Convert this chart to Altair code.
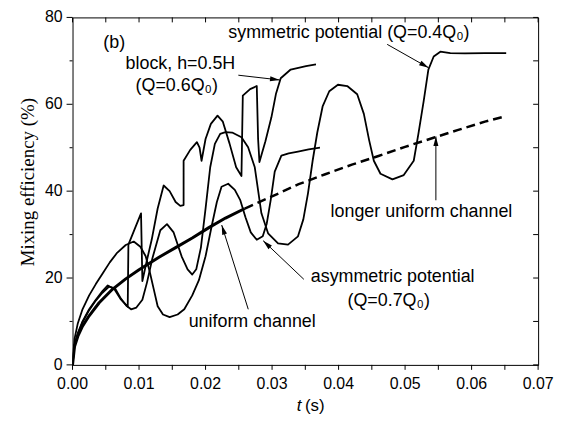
import math
import altair as alt
import pandas as pd

# ---------------- data ----------------
uni_t = [0, 0.0003, 0.0008, 0.0015, 0.0025, 0.004, 0.006, 0.008, 0.010, 0.013, 0.0155, 0.018, 0.0205, 0.023, 0.0259]
uni_y = [0, 4.2, 6.6, 8.9, 11.3, 14.3, 17.4, 19.8, 21.9, 24.8, 27.0, 29.2, 31.6, 33.8, 36.0]

long_t = [0.0259, 0.030, 0.034, 0.038, 0.042, 0.046, 0.050, 0.0545, 0.058, 0.062, 0.0652]
long_y = [36.0, 38.8, 41.6, 43.9, 46.1, 48.1, 50.2, 52.4, 54.1, 56.0, 57.3]

sym_t = [0, 0.0003, 0.0008, 0.0015, 0.0025, 0.0035, 0.0045, 0.0055, 0.0064, 0.0073, 0.0081, 0.0088,
         0.0096, 0.0105, 0.0112, 0.0120, 0.0132, 0.0142, 0.0152, 0.0164, 0.0173, 0.0180, 0.0186,
         0.0193, 0.0200, 0.0207, 0.0214, 0.0222, 0.0230, 0.0240, 0.0254, 0.0264, 0.0274, 0.0284,
         0.0294, 0.0309, 0.0324, 0.0339, 0.0347, 0.0354, 0.0361, 0.0368, 0.0376, 0.0386, 0.0399,
         0.0413, 0.0428, 0.0438, 0.0446, 0.0453, 0.0463, 0.0481, 0.0498, 0.0513, 0.0520, 0.0528,
         0.0535, 0.0543, 0.0553, 0.0568, 0.0590, 0.0620, 0.0652]
sym_y = [0, 4.5, 7.2, 9.8, 12.6, 14.8, 16.6, 18.0, 17.6, 15.2, 13.6, 12.8,
         13.2, 15.0, 19.0, 24.5, 31.0, 32.4, 30.5, 25.0, 22.0, 20.8, 22.0,
         27.0, 36.0, 45.5, 50.9, 53.2, 53.6, 53.5, 52.4, 50.1, 45.5, 34.9,
         30.3, 28.0, 27.7, 29.6, 33.5, 39.5, 47.0, 53.5, 59.5, 63.0, 64.5,
         64.2, 62.3, 57.8, 51.7, 47.0, 44.0, 42.7, 43.7, 47.0, 53.2, 60.8,
         68.0, 71.0, 72.1, 71.8, 71.7, 71.8, 71.8]

blk_t = [0, 0.0003, 0.0008, 0.0015, 0.0025, 0.0035, 0.0045, 0.0053, 0.0063, 0.0072, 0.0083, 0.0084,
         0.0094, 0.0103, 0.0105, 0.0112, 0.0119, 0.0128, 0.0137, 0.0146, 0.0155, 0.0162, 0.0167,
         0.0167, 0.0177, 0.0187, 0.0191, 0.0194, 0.0200, 0.0208, 0.0218, 0.0226, 0.0236, 0.0246,
         0.0254, 0.0256, 0.0267, 0.0277, 0.0279, 0.0281, 0.0290, 0.0299, 0.0306, 0.0313, 0.0328,
         0.0351, 0.0366]
blk_y = [0, 4.6, 7.3, 10.0, 12.8, 15.0, 17.0, 18.3, 17.4, 15.2, 13.4, 27.7,
         31.5, 34.9, 19.3, 24.2, 28.8, 36.0, 41.3, 40.0, 37.5, 36.6, 36.8,
         47.0, 49.5, 51.3, 50.0, 47.0, 52.0, 55.5, 57.4, 56.0, 51.0, 45.5,
         43.5, 62.0, 63.5, 64.2, 52.0, 46.7, 51.5, 57.0, 62.5, 66.0, 68.0,
         68.8, 69.2]

asy_t = [0, 0.0003, 0.0008, 0.0015, 0.0025, 0.0035, 0.0045, 0.0056, 0.0067, 0.0080, 0.0092, 0.0102,
         0.0110, 0.0116, 0.0122, 0.0128, 0.0136, 0.0146, 0.0158, 0.0168, 0.0180, 0.0190, 0.0200,
         0.0209, 0.0217, 0.0224, 0.0234, 0.0244, 0.0252, 0.0260, 0.0268, 0.0277, 0.0286, 0.0292,
         0.0298, 0.0304, 0.0314, 0.0325, 0.0339, 0.0355, 0.0372]
asy_y = [0, 6.0, 9.6, 12.8, 16.0, 18.6, 21.0, 23.6, 25.8, 27.6, 28.4, 27.2,
         25.0, 21.5, 17.5, 13.5, 11.6, 11.0, 11.6, 12.8, 16.0, 19.5, 25.0,
         31.8, 37.5, 41.0, 41.7, 40.3, 38.0, 34.0, 30.5, 28.8, 29.6, 32.5,
         38.0, 44.5, 48.2, 48.7, 49.1, 49.6, 50.0]

x_ticks = [0.00, 0.01, 0.02, 0.03, 0.04, 0.05, 0.06, 0.07]
x_tick_labels = ["0.00", "0.01", "0.02", "0.03", "0.04", "0.05", "0.06", "0.07"]
x_minor = [0.005, 0.015, 0.025, 0.035, 0.045, 0.055, 0.065]
y_ticks = [0, 20, 40, 60, 80]
y_tick_labels = ["0", "20", "40", "60", "80"]
y_minor = [10, 30, 50, 70]

y_title = "Mixing efficiency (%)"

# annotation texts (data coordinates)
lab_text = ["(b)", "block, h=0.5H", "(Q=0.6Q\u2080)", "symmetric potential (Q=0.4Q\u2080)",
            "longer uniform channel", "asymmetric potential", "(Q=0.7Q\u2080)", "uniform channel"]
lab_t = [0.00627, 0.01622, 0.01567, 0.02343, 0.0388, 0.03582, 0.04134, 0.01746]
lab_y = [74.1, 69.2, 64.2, 76.4, 35.3, 20.2, 14.7, 9.8]
lab_align = ["center", "center", "center", "left", "left", "left", "left", "left"]

# arrows: start -> tip
arr_t0 = [0.02493, 0.04731, 0.05463, 0.03478, 0.02642]
arr_y0 = [66.7, 73.8, 37.9, 19.7, 12.8]
arr_t1 = [0.03115, 0.05354, 0.05463, 0.02866, 0.02243]
arr_y1 = [65.6, 68.4, 52.6, 28.6, 32.2]

# ---------------- chart ----------------
W, H = 469, 350
XD, YD = [0, 0.07], [0, 80]
FONT = "Liberation Sans"

xs = alt.Scale(domain=XD, nice=False, zero=False)
ys = alt.Scale(domain=YD, nice=False, zero=False)

all_x = sorted(x_ticks + x_minor)
all_y = sorted(y_ticks + y_minor)


def X(f):
    return alt.X(f, scale=xs, axis=None)


def Y(f):
    return alt.Y(f, scale=ys, axis=None)


def curve(t, y, width, dash=None):
    df = pd.DataFrame({"t": t, "y": y, "i": list(range(len(t)))})
    kw = dict(color="black", strokeWidth=width, clip=True, strokeJoin="round")
    if dash:
        kw["strokeDash"] = dash
    return alt.Chart(df).mark_line(**kw).encode(x=X("t:Q"), y=Y("y:Q"), order="i:Q")


layers = [
    curve(sym_t, sym_y, 1.8),
    curve(blk_t, blk_y, 1.8),
    curve(asy_t, asy_y, 1.8),
    curve(long_t, long_y, 2.5, dash=[9, 5]),
    curve(uni_t, uni_y, 3.0),
]

rule = dict(color="black", strokeWidth=1)
# bottom axis ticks + labels
layers.append(alt.Chart(pd.DataFrame({"t": all_x})).mark_rule(**rule).encode(
    x=X("t:Q"), y=alt.value(H), y2=alt.value(H + 5)))
layers.append(alt.Chart(pd.DataFrame({"t": x_ticks, "s": x_tick_labels})).mark_text(
    align="center", baseline="middle", font=FONT, fontSize=16, color="black").encode(
    x=X("t:Q"), y=alt.value(H + 19), text="s:N"))
# left axis ticks + labels
layers.append(alt.Chart(pd.DataFrame({"y": y_ticks})).mark_rule(**rule).encode(
    y=Y("y:Q"), x=alt.value(-6), x2=alt.value(0)))
layers.append(alt.Chart(pd.DataFrame({"y": y_minor})).mark_rule(**rule).encode(
    y=Y("y:Q"), x=alt.value(-3), x2=alt.value(0)))
layers.append(alt.Chart(pd.DataFrame({"y": y_ticks, "s": y_tick_labels})).mark_text(
    align="right", baseline="middle", font=FONT, fontSize=16, color="black").encode(
    y=Y("y:Q"), x=alt.value(-10), text="s:N"))
# y title
layers.append(alt.Chart(pd.DataFrame({"s": [y_title]})).mark_text(
    align="center", baseline="middle", font="Liberation Serif", fontSize=19, angle=270,
    color="black").encode(x=alt.value(-45), y=alt.value(166), text="s:N"))
# inward ticks on top and right
layers.append(alt.Chart(pd.DataFrame({"t": all_x})).mark_rule(**rule).encode(
    x=X("t:Q"), y=alt.value(0), y2=alt.value(5)))
layers.append(alt.Chart(pd.DataFrame({"y": all_y})).mark_rule(**rule).encode(
    y=Y("y:Q"), x=alt.value(W), x2=alt.value(W - 5)))

# arrows
adf = pd.DataFrame({"t0": arr_t0, "y0": arr_y0, "t1": arr_t1, "y1": arr_y1})
px_t = W / (XD[1] - XD[0])
px_y = H / (YD[1] - YD[0])
adf["angle"] = [
    math.degrees(math.atan2((b - a) * px_t, (d - c) * px_y)) % 360
    for a, b, c, d in zip(adf.t0, adf.t1, adf.y0, adf.y1)
]
layers.append(alt.Chart(adf).mark_rule(**rule).encode(
    x=X("t0:Q"), y=Y("y0:Q"), x2="t1:Q", y2="y1:Q"))
layers.append(alt.Chart(adf).mark_point(
    shape="M0,0L0.26,1L-0.26,1Z", filled=True, color="black", opacity=1, size=380, strokeWidth=0
).encode(x=X("t1:Q"), y=Y("y1:Q"), angle=alt.Angle("angle:Q", scale=None)))

# annotation texts
tdf = pd.DataFrame({"t": lab_t, "y": lab_y, "s": lab_text, "a": lab_align})
for al in ["center", "left"]:
    sub = tdf[tdf.a == al]
    layers.append(alt.Chart(sub).mark_text(
        align=al, baseline="middle", font=FONT, fontSize=18, color="black"
    ).encode(x=X("t:Q"), y=Y("y:Q"), text="s:N"))

# x-axis title: italic t + (s)
xt_df = pd.DataFrame({"t": [0.03370], "y": [-9.4], "s": ["t"]})
xs_df = pd.DataFrame({"t": [0.03495], "y": [-9.4], "s": ["(s)"]})
layers.append(alt.Chart(xt_df).mark_text(align="left", baseline="middle", font=FONT, fontSize=17,
                                         fontStyle="italic", color="black").encode(
    x=X("t:Q"), y=Y("y:Q"), text="s:N"))
layers.append(alt.Chart(xs_df).mark_text(align="left", baseline="middle", font=FONT, fontSize=17,
                                         color="black").encode(
    x=X("t:Q"), y=Y("y:Q"), text="s:N"))

chart = alt.layer(*layers).properties(
    width=W, height=H,
    autosize=alt.AutoSizeParams(type="none"),
    padding={"left": 65, "top": 8, "right": 16, "bottom": 50},
    background="white",
).configure_view(stroke="black", strokeWidth=1)

chart.save("out.html", embed_options={"renderer": "svg", "actions": False})
